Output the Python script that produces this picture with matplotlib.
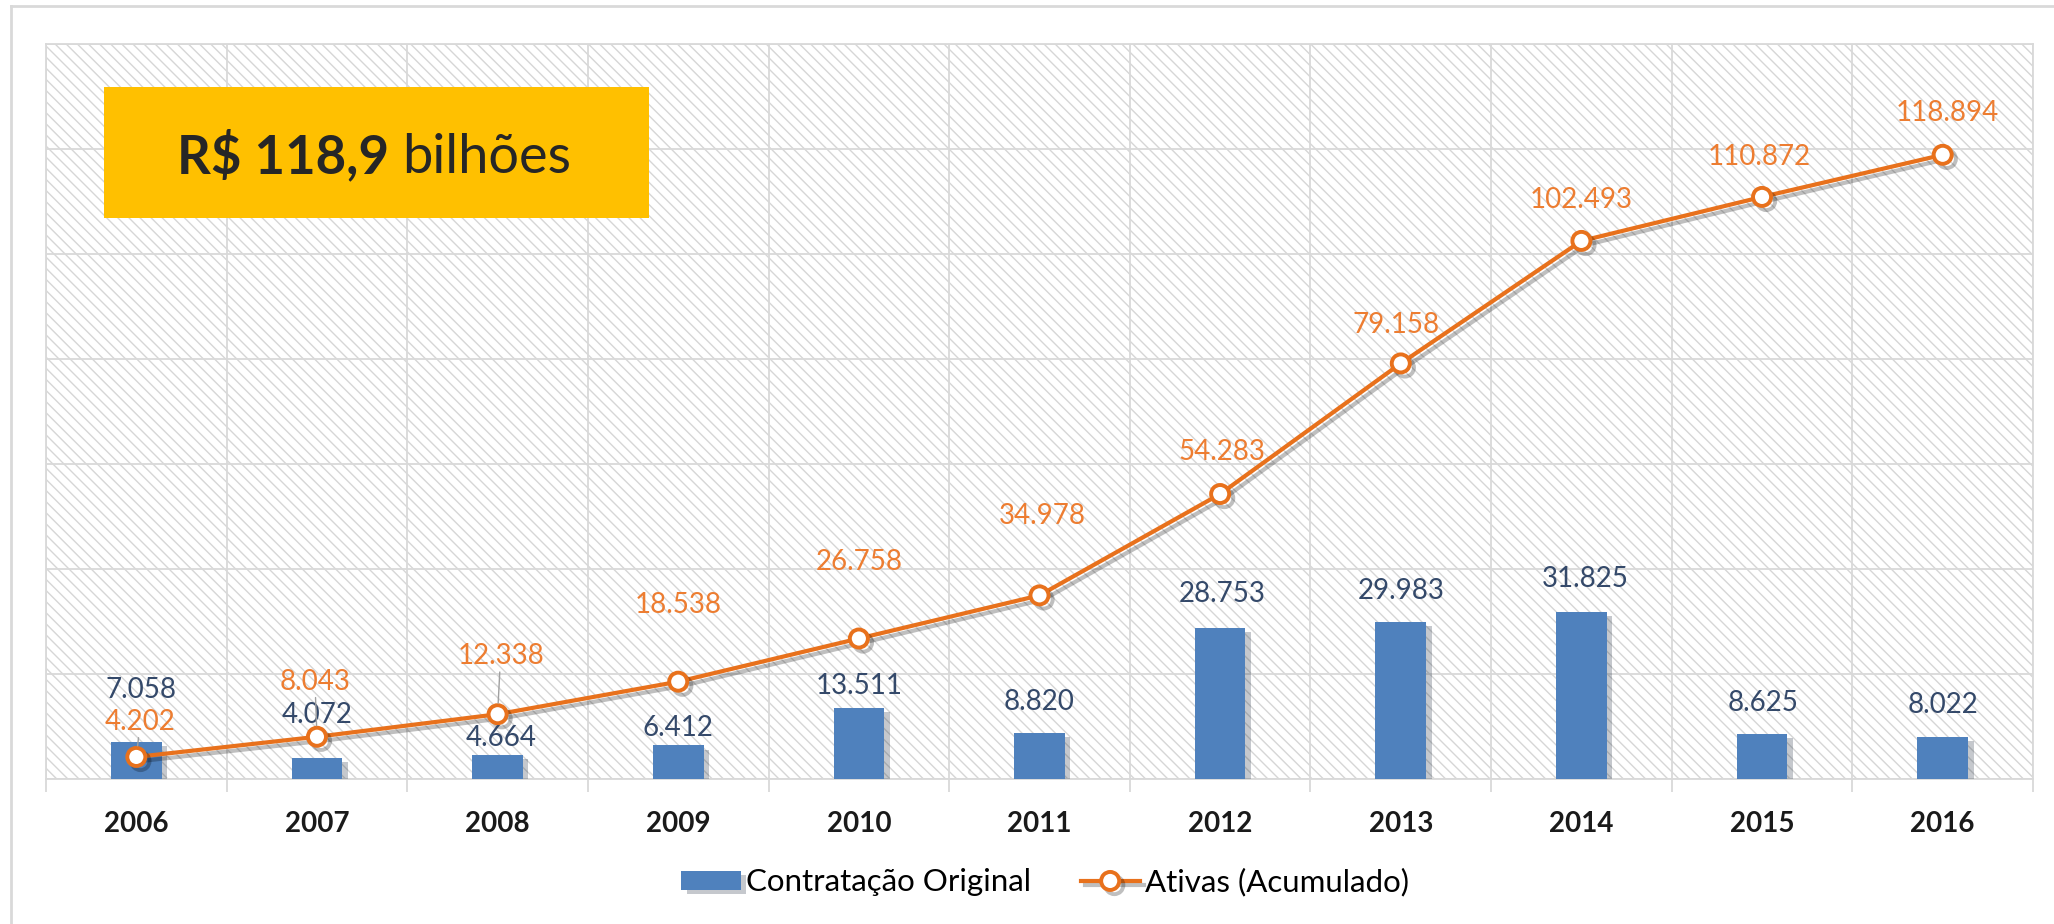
import matplotlib
matplotlib.use("Agg")
import matplotlib.pyplot as plt
import matplotlib.patheffects as pe
from matplotlib.patches import Rectangle
from matplotlib.lines import Line2D
import numpy as np

years = ["2006", "2007", "2008", "2009", "2010", "2011", "2012", "2013", "2014", "2015", "2016"]
contratacao = [7.058, 4.072, 4.664, 6.412, 13.511, 8.820, 28.753, 29.983, 31.825, 8.625, 8.022]
ativas = [4.202, 8.043, 12.338, 18.538, 26.758, 34.978, 54.283, 79.158, 102.493, 110.872, 118.894]
legend_labels = ["Contratação Original", "Ativas (Acumulado)"]

# label offsets in pixels (label centre relative to the point)
bar_label_off = [(5, 52), (0, 43), (4, 17), (0, 17), (0, 22), (0, 31), (2, 34), (0, 31), (4, 33), (1, 31), (0, 32)]
line_label_off = [(4, 35), (-2, 55), (3, 58), (0, 77), (0, 77), (3, 79), (2, 42), (-5, 38), (0, 41), (-3, 40), (5, 42)]
leader_idx = [0, 1, 2]

plt.rcParams["font.family"] = ["Lato", "DejaVu Sans"]
plt.rcParams["hatch.linewidth"] = 1.0

BLUE = "#4F81BD"
ORANGE = "#E8711C"
ORANGE_TXT = "#ED7D31"
BAR_TXT = "#34496A"
GRID = "#D9D9D9"

fig = plt.figure(figsize=(20.54, 9.24), dpi=100)
W, H = 2054, 924
ax = fig.add_axes([46 / W, 1 - 779 / H, (2033 - 46) / W, (779 - 44) / H])
x = np.arange(len(years))

# hatched plot background
ax.add_patch(Rectangle((0, 0), 1, 1, transform=ax.transAxes, facecolor="white",
                       edgecolor="#D6D6D6", hatch="\\\\\\", lw=0, zorder=0))

bars = ax.bar(x, contratacao, width=0.28, color=BLUE, zorder=3,
              path_effects=[pe.SimplePatchShadow(offset=(4, -3), alpha=0.25), pe.Normal()])
line, = ax.plot(x, ativas, color=ORANGE, lw=3, marker="o", ms=13, mfc="white",
                mec=ORANGE, mew=2.8, zorder=4,
                path_effects=[pe.SimpleLineShadow(offset=(3, -3), alpha=0.25), pe.Normal()])

for i, v in enumerate(contratacao):
    dx, dy = bar_label_off[i]
    ax.annotate(f"{v:.3f}", xy=(i, v), xytext=(dx, dy), textcoords="offset pixels",
                ha="center", va="center", fontsize=20, color=BAR_TXT, zorder=5)

for i, v in enumerate(ativas):
    dx, dy = line_label_off[i]
    arrow = None
    if i in leader_idx:
        arrow = dict(arrowstyle="-", color="#A0A0A0", lw=1, shrinkA=0, shrinkB=8)
    ax.annotate(f"{v:.3f}", xy=(i, v), xytext=(dx, dy), textcoords="offset pixels",
                ha="center", va="center", fontsize=20, color=ORANGE_TXT, zorder=5,
                arrowprops=arrow)

ax.set_xlim(-0.5, len(years) - 0.5)
ax.set_ylim(0, 140)
ax.set_xticks(x)
ax.set_xticklabels(years, fontweight="bold", fontsize=20, color="#1A1A1A")
ax.set_xticks(np.arange(-0.5, len(years), 1), minor=True)
ax.tick_params(axis="x", which="major", length=0, pad=23)
ax.tick_params(axis="x", which="minor", length=9, color=GRID, width=1.3)
ax.set_yticks(np.arange(0, 141, 20))
ax.tick_params(axis="y", length=0, labelleft=False)
ax.grid(axis="x", which="minor", color=GRID, lw=1.3)
ax.grid(axis="y", which="major", color=GRID, lw=1.3)
for s in ax.spines.values():
    s.set_color(GRID)
    s.set_linewidth(1.3)

fig.legend([bars, line], legend_labels, loc="center", bbox_to_anchor=(1045 / W, 1 - 882 / H),
           ncol=2, frameon=False, fontsize=22.5, handlelength=1.9, handleheight=0.58,
           handletextpad=0.15, columnspacing=1.6)

# outer frame
fig.add_artist(Line2D([11 / W, 11 / W], [0, 1 - 6 / H], transform=fig.transFigure, color=GRID, lw=2))
fig.add_artist(Line2D([11 / W, 1], [1 - 6 / H, 1 - 6 / H], transform=fig.transFigure, color=GRID, lw=2))

# yellow callout box
fig.add_artist(Rectangle((104 / W, 1 - 218 / H), (649 - 104) / W, (218 - 87) / H,
                         transform=fig.transFigure, facecolor="#FFC000", edgecolor="none"))
fig.text(177 / W, 1 - 173 / H, "R$ 118,9", fontsize=38, fontweight="bold",
         color="#262626", ha="left", va="baseline")
fig.text(402 / W, 1 - 173 / H, "bilhões", fontsize=39, fontweight="normal",
         color="#262626", ha="left", va="baseline")

fig.savefig("out.png", dpi=100)
plt.close()
